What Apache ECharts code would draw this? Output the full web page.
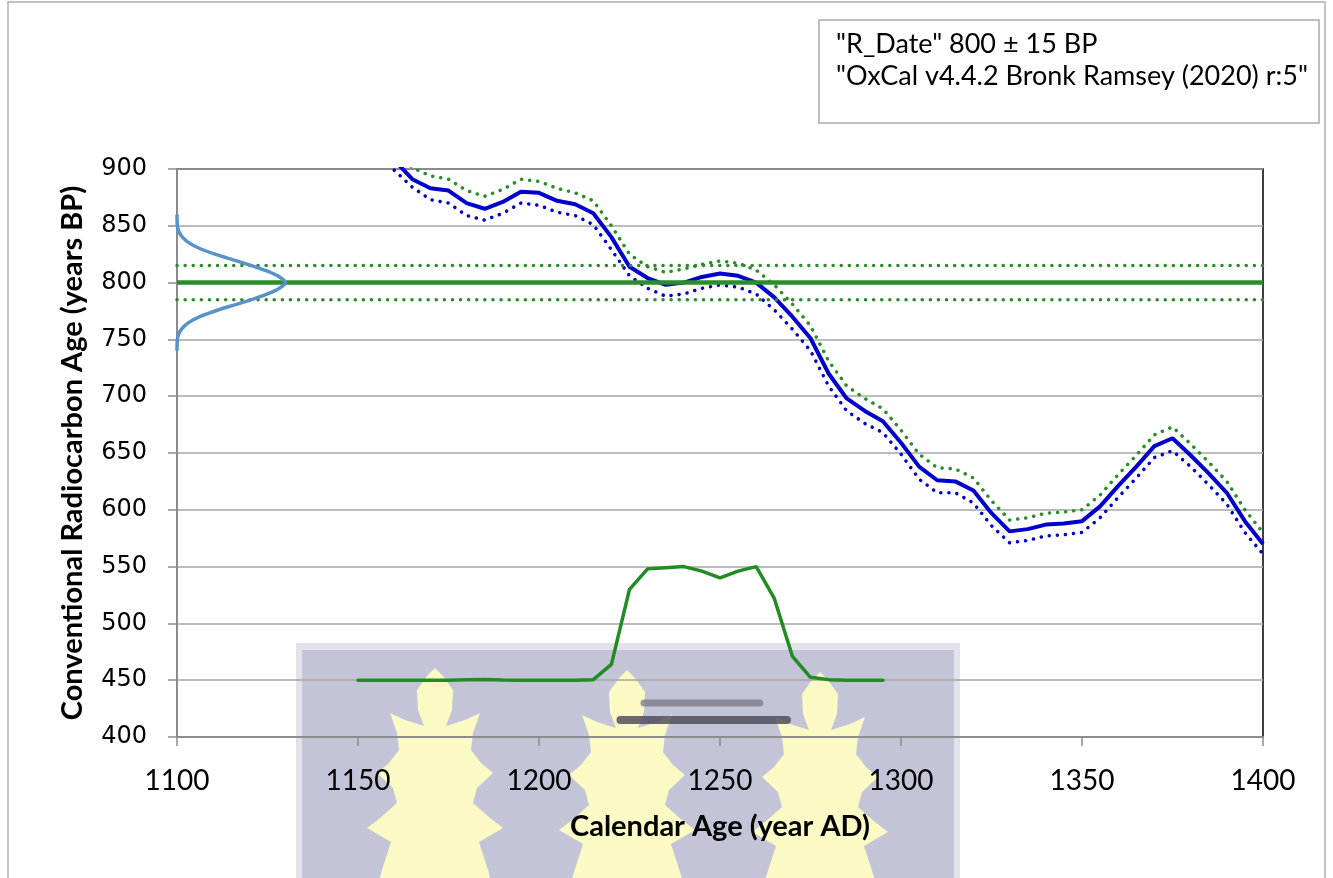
<!DOCTYPE html>
<html>
<head>
<meta charset="UTF-8">
<title>R_Date 800 ± 15 BP</title>
<script src="https://cdn.jsdelivr.net/npm/echarts@6/dist/echarts.min.js"></script>
<style>html,body{margin:0;padding:0;background:#fff;}</style>
</head>
<body>
<div id="main" style="width:1333px;height:878px"></div>
<script>
// calibration curve (IntCal20), 5-year steps
var calYears = [1160,1165,1170,1175,1180,1185,1190,1195,1200,1205,1210,1215,1220,1225,1230,1235,1240,1245,1250,1255,1260,1265,1270,1275,1280,1285,1290,1295,1300,1305,1310,1315,1320,1325,1330,1335,1340,1345,1350,1355,1360,1365,1370,1375,1380,1385,1390,1395,1400];
var curveMid = [908,891,883,881,870,865,871,880,879,872,869,861,840,814,804,798,800,805,808,806,800,787,770,751,720,698,687,678,659,638,626,625,617,597,581,583,587,588,590,603,621,638,656,663,648,632,615,590,570];
var curveUpper = [918,901,894,891,881,876,882,891,889,883,879,872,850,825,814,809,812,816,819,817,811,798,781,762,731,709,698,689,670,649,637,636,628,608,591,593,597,598,600,613,631,648,666,673,658,642,625,600,580];
var curveLower = [899,884,873,870,859,855,861,870,868,862,859,851,829,806,795,788,790,795,798,796,790,776,759,740,709,687,676,668,649,627,615,615,606,586,571,573,577,578,580,593,611,628,646,652,638,622,605,580,561];

// measured date
var rDate = 800;
var rError = 15;
var dateSpan = [1100, 1400];

// measurement distribution drawn on the y axis
var gaussAge = [860,850,845,840,835,830,825,820,815,810,805,800,795,790,785,780,775,770,765,760,755,750,740];
var gaussCal = [1100,1100.1,1100.5,1101.5,1103.3,1106.3,1110.5,1115.5,1120.6,1125,1128.3,1130,1128.3,1125,1120.6,1115.5,1110.5,1106.3,1103.3,1101.5,1100.5,1100.1,1100];

// calibrated probability (baseline 450)
var probYears = [1150,1155,1160,1165,1170,1175,1180,1185,1190,1195,1200,1205,1210,1215,1220,1225,1230,1235,1240,1245,1250,1255,1260,1265,1270,1275,1280,1285,1290,1295];
var probValues = [450,450,450,450,450,450,450.3,450.6,450.2,450,450,450,450,450.5,464,530,548,549,550,546,540,546,550,522,471,452.5,450.5,450,450,450];

// calibrated ranges: [from, to, level]
var range68 = [1229, 1261, 430];
var range95 = [1222.5, 1268.5, 415];

var xTicks = [1100, 1400, 50];
var yTicks = [400, 900, 50];

function pairs(xs, ys) {
    var out = [];
    for (var i = 0; i < xs.length; i++) out.push([xs[i], ys[i]]);
    return out;
}

// watermark leaf (decoration only)
var leafHalf = [[0,0],[8,8],[18,22],[17,42],[11,58],[30,52],[45,45],[38,65],[36,82],[46,95],[58,105],[42,120],[38,135],[55,150],[68,160],[44,174],[54,205],[60,240]];
function leaf(cx, top) {
    var pts = [];
    leafHalf.forEach(function (p) { pts.push([cx + p[0], top + p[1]]); });
    for (var i = leafHalf.length - 1; i > 0; i--) pts.push([cx - leafHalf[i][0], top + leafHalf[i][1]]);
    return { type: 'polygon', shape: { points: pts }, style: { fill: '#fbfac4' }, z: -9, silent: true };
}

var dotted = [0.1, 8];
var green = '#2a8c2a';
var blue = '#0000cc';

var myChart = echarts.init(document.getElementById('main'));
var option = {
    animation: false,
    backgroundColor: '#fff',
    grid: {
        left: 177, right: 70, top: 169, bottom: 141,
        show: true, borderColor: '#000', borderWidth: 1.5, backgroundColor: 'transparent'
    },
    graphic: [
        // outer chart frame
        { type: 'rect', shape: { x: 8, y: 2, width: 1317, height: 900 }, style: { fill: 'none', stroke: '#b0b0b0', lineWidth: 1.5 }, z: -10, silent: true },
        // watermark
        { type: 'rect', shape: { x: 296, y: 643, width: 664, height: 240 }, style: { fill: '#e2e2ea' }, z: -9, silent: true },
        { type: 'rect', shape: { x: 302, y: 650, width: 652, height: 230 }, style: { fill: '#c3c4d7' }, z: -9, silent: true },
        leaf(435, 668),
        leaf(627, 670),
        leaf(820, 672),
        // text box
        { type: 'rect', shape: { x: 819, y: 20, width: 500, height: 103 }, style: { fill: '#fff', stroke: '#bfbfbf', lineWidth: 2 }, z: 10 },
        { type: 'text', left: 836, top: 31, style: { text: '"R_Date" 800 ± 15 BP', font: '27px Lato', fill: '#000' }, z: 11 },
        { type: 'text', left: 836, top: 63, style: { text: '"OxCal v4.4.2 Bronk Ramsey (2020) r:5"', font: '27px Lato', fill: '#000' }, z: 11 }
    ],
    xAxis: {
        type: 'value',
        min: xTicks[0], max: xTicks[1], interval: xTicks[2],
        name: 'Calendar Age (year AD)',
        nameLocation: 'middle',
        nameGap: 75,
        nameTextStyle: { fontFamily: 'Lato', fontWeight: 'bold', fontSize: 29, color: '#000' },
        axisLine: { show: true, onZero: false, lineStyle: { color: '#8c8c8c', width: 2 } },
        axisTick: { show: true, length: 9, lineStyle: { color: '#8c8c8c', width: 1.5 } },
        axisLabel: { margin: 30, fontFamily: 'Lato', fontSize: 28, color: '#000', formatter: function (v) { return String(v); } },
        splitLine: { show: false }
    },
    yAxis: {
        type: 'value',
        min: yTicks[0], max: yTicks[1], interval: yTicks[2],
        name: 'Conventional Radiocarbon Age (years BP)',
        nameLocation: 'middle',
        nameGap: 90,
        nameTextStyle: { fontFamily: 'Lato', fontWeight: 'bold', fontSize: 29, color: '#000' },
        axisLine: { show: true, lineStyle: { color: '#8c8c8c', width: 2 } },
        axisTick: { show: true, length: 9, lineStyle: { color: '#8c8c8c', width: 1.5 } },
        axisLabel: { margin: 30, fontFamily: 'DejaVu Sans', fontSize: 24, color: '#000' },
        splitLine: { show: true, lineStyle: { color: '#a6a6a6', width: 1.5 } }
    },
    series: [
        {
            name: 'curve upper', type: 'line', data: pairs(calYears, curveUpper),
            showSymbol: false, clip: true,
            lineStyle: { color: green, width: 3.5, type: dotted, cap: 'round' }
        },
        {
            name: 'curve lower', type: 'line', data: pairs(calYears, curveLower),
            showSymbol: false, clip: true,
            lineStyle: { color: blue, width: 3.5, type: dotted, cap: 'round' }
        },
        {
            name: 'curve', type: 'line', data: pairs(calYears, curveMid),
            showSymbol: false, clip: true,
            lineStyle: { color: blue, width: 4 }
        },
        {
            name: 'date +1s', type: 'line', data: pairs(dateSpan, [rDate + rError, rDate + rError]),
            showSymbol: false, lineStyle: { color: green, width: 3.5, type: dotted, cap: 'round' }
        },
        {
            name: 'date -1s', type: 'line', data: pairs(dateSpan, [rDate - rError, rDate - rError]),
            showSymbol: false, lineStyle: { color: green, width: 3.5, type: dotted, cap: 'round' }
        },
        {
            name: 'date', type: 'line', data: pairs(dateSpan, [rDate, rDate]),
            showSymbol: false, lineStyle: { color: green, width: 4.5 }
        },
        {
            name: 'measurement', type: 'line', data: pairs(gaussCal, gaussAge),
            showSymbol: false, smooth: 0.3, lineStyle: { color: '#5792c9', width: 3.5 }
        },
        {
            name: 'calibrated', type: 'line', data: pairs(probYears, probValues),
            showSymbol: false, lineStyle: { color: '#228b22', width: 3.5, cap: 'round' }
        },
        {
            name: '68.3%', type: 'line', data: pairs([range68[0], range68[1]], [range68[2], range68[2]]),
            showSymbol: false, lineStyle: { color: 'rgba(120,120,132,0.75)', width: 7, cap: 'round' }
        },
        {
            name: '95.4%', type: 'line', data: pairs([range95[0], range95[1]], [range95[2], range95[2]]),
            showSymbol: false, lineStyle: { color: 'rgba(80,80,95,0.85)', width: 8, cap: 'round' }
        }
    ]
};
myChart.setOption(option);
</script>
</body>
</html>
